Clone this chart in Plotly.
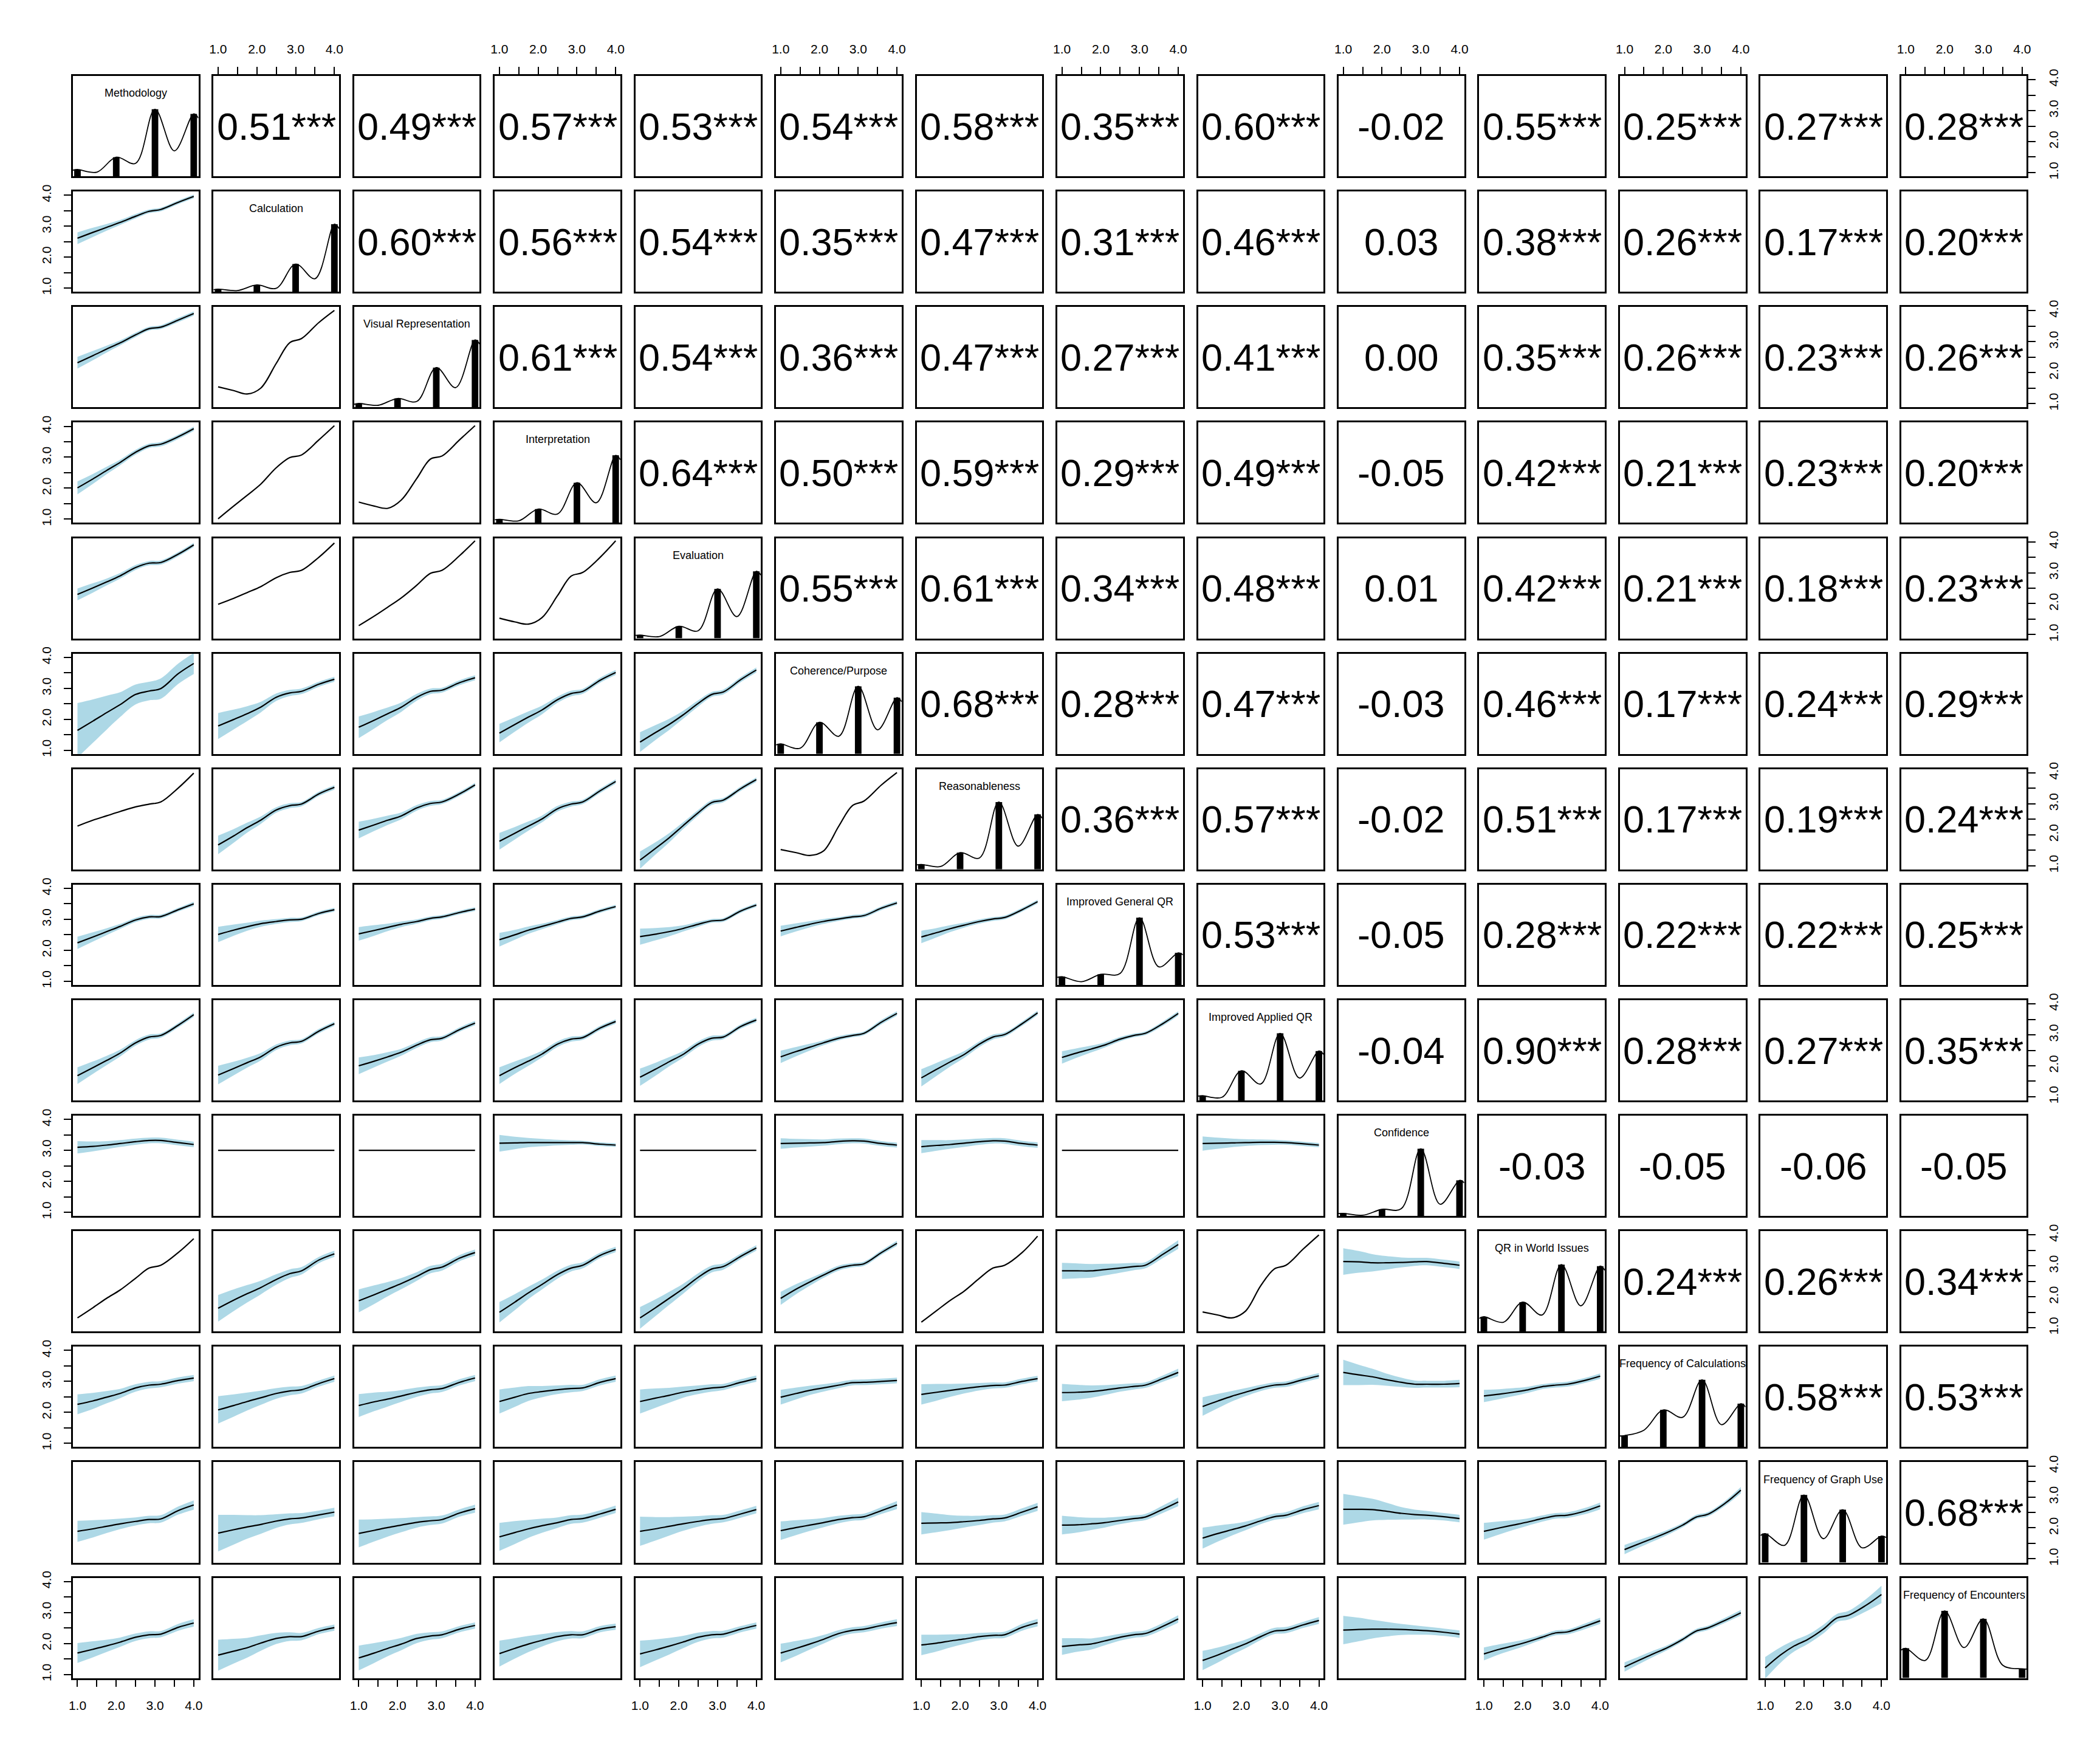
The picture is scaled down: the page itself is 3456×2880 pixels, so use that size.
import plotly.graph_objects as go

# ---------------- data ----------------
VARS = ["Methodology", "Calculation", "Visual Representation", "Interpretation",
        "Evaluation", "Coherence/Purpose", "Reasonableness", "Improved General QR",
        "Improved Applied QR", "Confidence", "QR in World Issues",
        "Frequency of Calculations", "Frequency of Graph Use", "Frequency of Encounters"]

# upper triangle correlation labels, row i, columns i+1..14
CORR_R01 = ["0.51***", "0.49***", "0.57***", "0.53***", "0.54***", "0.58***", "0.35***", "0.60***", "-0.02", "0.55***", "0.25***", "0.27***", "0.28***"]
CORR_R02 = ["0.60***", "0.56***", "0.54***", "0.35***", "0.47***", "0.31***", "0.46***", "0.03", "0.38***", "0.26***", "0.17***", "0.20***"]
CORR_R03 = ["0.61***", "0.54***", "0.36***", "0.47***", "0.27***", "0.41***", "0.00", "0.35***", "0.26***", "0.23***", "0.26***"]
CORR_R04 = ["0.64***", "0.50***", "0.59***", "0.29***", "0.49***", "-0.05", "0.42***", "0.21***", "0.23***", "0.20***"]
CORR_R05 = ["0.55***", "0.61***", "0.34***", "0.48***", "0.01", "0.42***", "0.21***", "0.18***", "0.23***"]
CORR_R06 = ["0.68***", "0.28***", "0.47***", "-0.03", "0.46***", "0.17***", "0.24***", "0.29***"]
CORR_R07 = ["0.36***", "0.57***", "-0.02", "0.51***", "0.17***", "0.19***", "0.24***"]
CORR_R08 = ["0.53***", "-0.05", "0.28***", "0.22***", "0.22***", "0.25***"]
CORR_R09 = ["-0.04", "0.90***", "0.28***", "0.27***", "0.35***"]
CORR_R10 = ["-0.03", "-0.05", "-0.06", "-0.05"]
CORR_R11 = ["0.24***", "0.26***", "0.34***"]
CORR_R12 = ["0.58***", "0.53***"]
CORR_R13 = ["0.68***"]

# smoother: x positions where fit / half-width of band were read
X_GRID = [1.0, 1.4, 1.75, 2.1, 2.5, 2.85, 3.15, 3.6, 4.0]

# lower triangle: for row i, one (fit, halfwidth) per column 1..i-1 ; halfwidth None = no band
FIT_R02 = [([2.61, 2.80, 2.96, 3.12, 3.32, 3.48, 3.54, 3.77, 3.96], [0.19, 0.15, 0.11, 0.08, 0.07, 0.06, 0.06, 0.06, 0.06])]
FIT_R03 = [([2.32, 2.55, 2.76, 2.96, 3.22, 3.42, 3.47, 3.70, 3.91], [0.19, 0.15, 0.11, 0.08, 0.07, 0.06, 0.06, 0.07, 0.07]),
           ([1.54, 1.42, 1.31, 1.50, 2.30, 2.97, 3.10, 3.62, 4.01], None)]
FIT_R04 = [([2.01, 2.30, 2.57, 2.83, 3.16, 3.37, 3.42, 3.66, 3.92], [0.21, 0.16, 0.12, 0.09, 0.08, 0.07, 0.07, 0.07, 0.07]),
           ([1.01, 1.42, 1.77, 2.13, 2.66, 2.99, 3.07, 3.56, 4.02], None),
           ([1.55, 1.42, 1.35, 1.62, 2.32, 2.94, 3.04, 3.56, 4.02], None)]
FIT_R05 = [([2.30, 2.51, 2.70, 2.90, 3.17, 3.31, 3.33, 3.60, 3.90], [0.19, 0.15, 0.11, 0.09, 0.08, 0.07, 0.07, 0.07, 0.07]),
           ([1.98, 2.17, 2.36, 2.55, 2.84, 3.01, 3.08, 3.50, 3.96], None),
           ([1.29, 1.60, 1.89, 2.19, 2.60, 2.98, 3.08, 3.55, 4.03], None),
           ([1.53, 1.41, 1.34, 1.55, 2.26, 2.89, 3.01, 3.50, 4.03], None)]
FIT_R06 = [([1.64, 1.94, 2.21, 2.47, 2.80, 2.91, 2.99, 3.47, 3.80], [0.88, 0.70, 0.55, 0.40, 0.32, 0.30, 0.33, 0.33, 0.34]),
           ([1.78, 1.99, 2.18, 2.39, 2.71, 2.85, 2.90, 3.13, 3.29], [0.42, 0.32, 0.24, 0.17, 0.12, 0.10, 0.09, 0.08, 0.08]),
           ([1.74, 1.97, 2.18, 2.39, 2.71, 2.90, 2.94, 3.18, 3.34], [0.35, 0.27, 0.20, 0.15, 0.11, 0.09, 0.08, 0.08, 0.08]),
           ([1.55, 1.83, 2.07, 2.30, 2.63, 2.83, 2.90, 3.26, 3.51], [0.30, 0.23, 0.18, 0.14, 0.10, 0.09, 0.08, 0.08, 0.08]),
           ([1.26, 1.57, 1.83, 2.13, 2.51, 2.80, 2.88, 3.28, 3.59], [0.32, 0.24, 0.18, 0.13, 0.10, 0.08, 0.08, 0.08, 0.08])]
FIT_R07 = [([2.28, 2.47, 2.61, 2.75, 2.90, 2.99, 3.06, 3.51, 3.99], None),
           ([1.67, 1.96, 2.23, 2.47, 2.80, 2.94, 2.99, 3.32, 3.53], [0.30, 0.22, 0.16, 0.12, 0.09, 0.08, 0.07, 0.07, 0.07]),
           ([2.15, 2.32, 2.47, 2.61, 2.87, 3.01, 3.06, 3.32, 3.61], [0.27, 0.20, 0.15, 0.11, 0.09, 0.08, 0.07, 0.07, 0.07]),
           ([1.79, 2.05, 2.28, 2.51, 2.84, 2.99, 3.06, 3.42, 3.72], [0.27, 0.20, 0.15, 0.11, 0.09, 0.08, 0.07, 0.07, 0.07]),
           ([1.18, 1.56, 1.90, 2.28, 2.71, 3.04, 3.12, 3.49, 3.78], [0.28, 0.20, 0.15, 0.11, 0.09, 0.08, 0.07, 0.07, 0.07]),
           ([1.52, 1.42, 1.33, 1.47, 2.28, 2.94, 3.09, 3.61, 4.01], None)]
FIT_R08 = [([2.24, 2.43, 2.60, 2.77, 2.98, 3.08, 3.09, 3.31, 3.50], [0.20, 0.15, 0.11, 0.08, 0.07, 0.06, 0.06, 0.06, 0.07]),
           ([2.51, 2.65, 2.76, 2.86, 2.93, 2.98, 3.00, 3.19, 3.31], [0.25, 0.18, 0.13, 0.10, 0.08, 0.07, 0.06, 0.06, 0.06]),
           ([2.53, 2.64, 2.74, 2.84, 2.93, 3.03, 3.08, 3.22, 3.33], [0.22, 0.17, 0.12, 0.09, 0.07, 0.06, 0.06, 0.06, 0.06]),
           ([2.34, 2.50, 2.65, 2.77, 2.91, 3.03, 3.08, 3.27, 3.41], [0.22, 0.16, 0.12, 0.09, 0.07, 0.06, 0.06, 0.06, 0.06]),
           ([2.44, 2.52, 2.60, 2.70, 2.84, 2.95, 2.98, 3.27, 3.46], [0.26, 0.20, 0.15, 0.10, 0.08, 0.06, 0.06, 0.06, 0.06]),
           ([2.62, 2.74, 2.84, 2.93, 3.01, 3.08, 3.12, 3.36, 3.53], [0.17, 0.13, 0.10, 0.08, 0.06, 0.06, 0.06, 0.06, 0.06]),
           ([2.43, 2.57, 2.70, 2.81, 2.93, 3.01, 3.06, 3.31, 3.57], [0.20, 0.15, 0.11, 0.08, 0.07, 0.06, 0.06, 0.06, 0.06])]
FIT_R09 = [([1.68, 1.94, 2.17, 2.41, 2.74, 2.93, 2.98, 3.31, 3.65], [0.27, 0.20, 0.15, 0.11, 0.09, 0.08, 0.07, 0.07, 0.07]),
           ([1.70, 1.91, 2.10, 2.29, 2.60, 2.74, 2.79, 3.12, 3.36], [0.30, 0.22, 0.16, 0.12, 0.09, 0.08, 0.07, 0.07, 0.07]),
           ([2.00, 2.15, 2.29, 2.44, 2.67, 2.84, 2.89, 3.17, 3.38], [0.27, 0.20, 0.15, 0.11, 0.09, 0.08, 0.07, 0.07, 0.07]),
           ([1.68, 1.94, 2.15, 2.38, 2.70, 2.86, 2.91, 3.22, 3.43], [0.27, 0.20, 0.15, 0.11, 0.09, 0.08, 0.07, 0.07, 0.07]),
           ([1.63, 1.89, 2.13, 2.36, 2.70, 2.89, 2.93, 3.27, 3.48], [0.28, 0.21, 0.15, 0.11, 0.09, 0.08, 0.07, 0.07, 0.07]),
           ([2.29, 2.46, 2.60, 2.74, 2.89, 2.98, 3.05, 3.41, 3.69], [0.20, 0.15, 0.11, 0.08, 0.07, 0.06, 0.06, 0.07, 0.07]),
           ([1.61, 1.89, 2.13, 2.36, 2.70, 2.93, 3.01, 3.36, 3.71], [0.28, 0.21, 0.15, 0.11, 0.09, 0.08, 0.07, 0.07, 0.07]),
           ([2.27, 2.42, 2.54, 2.67, 2.86, 2.98, 3.05, 3.36, 3.69], [0.20, 0.15, 0.11, 0.08, 0.07, 0.06, 0.06, 0.07, 0.07])]
FIT_R10 = [([3.10, 3.13, 3.17, 3.22, 3.28, 3.32, 3.32, 3.25, 3.19], [0.20, 0.16, 0.13, 0.11, 0.10, 0.09, 0.09, 0.09, 0.09]),
           ([3.00, 3.00, 3.00, 3.00, 3.00, 3.00, 3.00, 3.00, 3.00], None),
           ([3.00, 3.00, 3.00, 3.00, 3.00, 3.00, 3.00, 3.00, 3.00], None),
           ([3.23, 3.24, 3.25, 3.25, 3.25, 3.25, 3.25, 3.20, 3.17], [0.27, 0.20, 0.15, 0.12, 0.09, 0.07, 0.06, 0.06, 0.06]),
           ([3.00, 3.00, 3.00, 3.00, 3.00, 3.00, 3.00, 3.00, 3.00], None),
           ([3.22, 3.23, 3.24, 3.25, 3.29, 3.31, 3.30, 3.22, 3.17], [0.17, 0.14, 0.12, 0.10, 0.09, 0.08, 0.08, 0.08, 0.08]),
           ([3.12, 3.16, 3.19, 3.23, 3.28, 3.31, 3.30, 3.22, 3.17], [0.21, 0.17, 0.14, 0.12, 0.10, 0.09, 0.09, 0.09, 0.09]),
           ([3.00, 3.00, 3.00, 3.00, 3.00, 3.00, 3.00, 3.00, 3.00], None),
           ([3.22, 3.23, 3.24, 3.25, 3.26, 3.26, 3.25, 3.21, 3.17], [0.23, 0.18, 0.14, 0.11, 0.09, 0.08, 0.07, 0.07, 0.07])]
FIT_R11 = [([1.32, 1.65, 1.95, 2.22, 2.60, 2.93, 3.02, 3.43, 3.88], None),
           ([1.63, 1.89, 2.10, 2.30, 2.56, 2.75, 2.84, 3.19, 3.39], [0.43, 0.35, 0.28, 0.22, 0.17, 0.14, 0.12, 0.10, 0.10]),
           ([1.87, 2.07, 2.25, 2.43, 2.66, 2.88, 2.96, 3.25, 3.43], [0.37, 0.30, 0.23, 0.18, 0.14, 0.12, 0.11, 0.10, 0.10]),
           ([1.50, 1.83, 2.13, 2.40, 2.72, 2.93, 3.02, 3.34, 3.53], [0.33, 0.26, 0.20, 0.16, 0.13, 0.11, 0.10, 0.09, 0.09]),
           ([1.32, 1.65, 1.95, 2.25, 2.63, 2.90, 2.98, 3.31, 3.58], [0.35, 0.27, 0.21, 0.16, 0.13, 0.11, 0.10, 0.09, 0.09]),
           ([1.95, 2.25, 2.48, 2.70, 2.93, 3.02, 3.07, 3.43, 3.73], [0.21, 0.16, 0.12, 0.09, 0.08, 0.07, 0.07, 0.07, 0.08]),
           ([1.18, 1.56, 1.89, 2.18, 2.60, 2.93, 3.02, 3.43, 3.96], None),
           ([2.84, 2.84, 2.84, 2.88, 2.93, 2.98, 3.02, 3.37, 3.69], [0.26, 0.24, 0.22, 0.19, 0.15, 0.12, 0.10, 0.12, 0.14]),
           ([1.51, 1.41, 1.32, 1.53, 2.36, 2.90, 3.02, 3.55, 4.00], None),
           ([3.14, 3.13, 3.10, 3.10, 3.11, 3.13, 3.14, 3.08, 3.02], [0.43, 0.35, 0.28, 0.22, 0.16, 0.13, 0.12, 0.12, 0.12])]
FIT_R12 = [([2.26, 2.37, 2.49, 2.61, 2.79, 2.88, 2.91, 3.03, 3.11], [0.32, 0.26, 0.20, 0.15, 0.12, 0.11, 0.10, 0.10, 0.10]),
           ([2.08, 2.22, 2.35, 2.47, 2.61, 2.69, 2.73, 2.93, 3.09], [0.44, 0.36, 0.29, 0.23, 0.17, 0.14, 0.12, 0.10, 0.10]),
           ([2.22, 2.34, 2.43, 2.53, 2.65, 2.73, 2.77, 2.97, 3.11], [0.37, 0.30, 0.24, 0.19, 0.15, 0.12, 0.11, 0.10, 0.10]),
           ([2.35, 2.49, 2.61, 2.67, 2.73, 2.77, 2.79, 2.97, 3.09], [0.39, 0.31, 0.24, 0.18, 0.14, 0.12, 0.10, 0.10, 0.10]),
           ([2.35, 2.46, 2.55, 2.65, 2.73, 2.79, 2.82, 2.97, 3.09], [0.39, 0.31, 0.24, 0.18, 0.14, 0.12, 0.10, 0.10, 0.10]),
           ([2.49, 2.61, 2.71, 2.79, 2.88, 2.96, 2.97, 3.00, 3.03], [0.24, 0.19, 0.15, 0.12, 0.10, 0.09, 0.09, 0.09, 0.09]),
           ([2.58, 2.65, 2.71, 2.77, 2.83, 2.87, 2.88, 3.00, 3.09], [0.33, 0.27, 0.21, 0.16, 0.12, 0.10, 0.09, 0.09, 0.09]),
           ([2.64, 2.65, 2.67, 2.72, 2.79, 2.84, 2.88, 3.09, 3.29], [0.28, 0.24, 0.20, 0.16, 0.12, 0.10, 0.09, 0.10, 0.12]),
           ([2.19, 2.37, 2.52, 2.65, 2.79, 2.88, 2.91, 3.06, 3.18], [0.30, 0.23, 0.17, 0.13, 0.10, 0.09, 0.09, 0.09, 0.09]),
           ([3.29, 3.21, 3.15, 3.06, 2.97, 2.91, 2.91, 2.91, 2.93], [0.41, 0.33, 0.26, 0.20, 0.15, 0.12, 0.11, 0.11, 0.12]),
           ([2.53, 2.59, 2.65, 2.72, 2.83, 2.88, 2.91, 3.03, 3.17], [0.20, 0.16, 0.13, 0.10, 0.08, 0.08, 0.08, 0.08, 0.09])]
FIT_R13 = [([1.89, 1.97, 2.05, 2.13, 2.21, 2.27, 2.29, 2.56, 2.74], [0.34, 0.28, 0.22, 0.17, 0.13, 0.12, 0.12, 0.13, 0.15]),
           ([1.83, 1.94, 2.03, 2.11, 2.22, 2.29, 2.32, 2.42, 2.51], [0.59, 0.48, 0.38, 0.30, 0.22, 0.18, 0.16, 0.14, 0.14]),
           ([1.82, 1.92, 2.01, 2.09, 2.18, 2.23, 2.27, 2.48, 2.62], [0.45, 0.36, 0.29, 0.23, 0.17, 0.14, 0.13, 0.12, 0.13]),
           ([1.71, 1.85, 1.97, 2.07, 2.17, 2.27, 2.30, 2.45, 2.60], [0.45, 0.37, 0.29, 0.23, 0.17, 0.14, 0.13, 0.12, 0.12]),
           ([1.89, 1.97, 2.05, 2.13, 2.21, 2.27, 2.30, 2.45, 2.59], [0.47, 0.38, 0.30, 0.23, 0.17, 0.14, 0.12, 0.12, 0.12]),
           ([1.91, 2.01, 2.09, 2.17, 2.27, 2.33, 2.36, 2.56, 2.74], [0.30, 0.24, 0.19, 0.15, 0.12, 0.10, 0.10, 0.11, 0.13]),
           ([2.15, 2.16, 2.17, 2.20, 2.24, 2.29, 2.32, 2.51, 2.68], [0.36, 0.30, 0.24, 0.19, 0.15, 0.12, 0.11, 0.12, 0.13]),
           ([2.09, 2.10, 2.13, 2.17, 2.24, 2.30, 2.35, 2.60, 2.84], [0.30, 0.25, 0.20, 0.16, 0.12, 0.10, 0.10, 0.12, 0.14]),
           ([1.67, 1.82, 1.94, 2.06, 2.23, 2.36, 2.41, 2.59, 2.72], [0.34, 0.26, 0.19, 0.14, 0.11, 0.10, 0.10, 0.11, 0.12]),
           ([2.60, 2.60, 2.59, 2.54, 2.47, 2.43, 2.41, 2.36, 2.30], [0.50, 0.42, 0.35, 0.28, 0.20, 0.16, 0.14, 0.12, 0.12]),
           ([1.89, 2.00, 2.09, 2.18, 2.30, 2.39, 2.41, 2.54, 2.71], [0.27, 0.21, 0.16, 0.12, 0.10, 0.09, 0.09, 0.10, 0.11]),
           ([1.30, 1.50, 1.67, 1.85, 2.09, 2.35, 2.44, 2.80, 3.22], [0.15, 0.12, 0.10, 0.08, 0.07, 0.07, 0.07, 0.08, 0.10])]
FIT_R14 = [([1.69, 1.81, 1.92, 2.04, 2.20, 2.28, 2.30, 2.52, 2.66], [0.32, 0.26, 0.20, 0.15, 0.12, 0.11, 0.10, 0.11, 0.12]),
           ([1.62, 1.75, 1.86, 2.01, 2.16, 2.22, 2.22, 2.40, 2.51], [0.50, 0.40, 0.32, 0.25, 0.18, 0.14, 0.12, 0.10, 0.10]),
           ([1.53, 1.69, 1.84, 1.98, 2.16, 2.24, 2.28, 2.46, 2.58], [0.40, 0.32, 0.25, 0.20, 0.15, 0.12, 0.11, 0.10, 0.10]),
           ([1.67, 1.84, 1.98, 2.10, 2.22, 2.28, 2.28, 2.46, 2.54], [0.42, 0.33, 0.26, 0.20, 0.15, 0.12, 0.11, 0.10, 0.10]),
           ([1.66, 1.79, 1.91, 2.04, 2.20, 2.28, 2.30, 2.46, 2.58], [0.43, 0.34, 0.27, 0.20, 0.15, 0.12, 0.11, 0.10, 0.10]),
           ([1.69, 1.84, 1.98, 2.13, 2.32, 2.42, 2.46, 2.58, 2.67], [0.30, 0.24, 0.18, 0.14, 0.11, 0.10, 0.10, 0.10, 0.11]),
           ([1.95, 2.01, 2.08, 2.14, 2.22, 2.26, 2.28, 2.52, 2.67], [0.33, 0.27, 0.21, 0.16, 0.12, 0.10, 0.10, 0.11, 0.12]),
           ([1.90, 1.95, 1.98, 2.08, 2.20, 2.28, 2.32, 2.55, 2.79], [0.27, 0.22, 0.18, 0.14, 0.11, 0.10, 0.10, 0.11, 0.12]),
           ([1.45, 1.63, 1.81, 1.98, 2.22, 2.40, 2.43, 2.60, 2.74], [0.31, 0.24, 0.18, 0.14, 0.11, 0.10, 0.10, 0.10, 0.11]),
           ([2.43, 2.45, 2.46, 2.46, 2.45, 2.43, 2.41, 2.36, 2.30], [0.46, 0.38, 0.30, 0.24, 0.18, 0.15, 0.13, 0.12, 0.12]),
           ([1.66, 1.81, 1.92, 2.04, 2.20, 2.34, 2.37, 2.55, 2.73], [0.21, 0.16, 0.13, 0.10, 0.08, 0.08, 0.08, 0.09, 0.10]),
           ([1.24, 1.47, 1.67, 1.86, 2.13, 2.40, 2.50, 2.75, 2.99], [0.15, 0.12, 0.10, 0.08, 0.07, 0.07, 0.07, 0.08, 0.09]),
           ([1.21, 1.63, 1.92, 2.13, 2.46, 2.82, 2.91, 3.23, 3.58], [0.35, 0.25, 0.18, 0.15, 0.14, 0.13, 0.14, 0.20, 0.28])]

# diagonal: bar heights at values 1..4 (fraction of panel height) and density curve
BAR_X = [1, 2, 3, 4]
DENS_X = [0.88, 1.0, 1.5, 2.0, 2.5, 3.0, 3.5, 4.0, 4.12]
DIAG_BARS = [
    [0.067, 0.19, 0.668, 0.622], [0.026, 0.068, 0.276, 0.674], [0.038, 0.088, 0.396, 0.672],
    [0.035, 0.137, 0.40, 0.673], [0.032, 0.12, 0.493, 0.669], [0.10, 0.315, 0.674, 0.56],
    [0.05, 0.167, 0.672, 0.548], [0.082, 0.106, 0.67, 0.32], [0.047, 0.296, 0.669, 0.493],
    [0.026, 0.066, 0.67, 0.355], [0.147, 0.293, 0.667, 0.652], [0.114, 0.37, 0.67, 0.432],
    [0.289, 0.674, 0.527, 0.264], [0.297, 0.67, 0.59, 0.092]]
DIAG_DENS = [
    [0.06, 0.067, 0.041, 0.19, 0.129, 0.668, 0.253, 0.622, 0.58],
    [0.02, 0.026, 0.012, 0.068, 0.035, 0.276, 0.13, 0.674, 0.63],
    [0.03, 0.038, 0.02, 0.088, 0.059, 0.396, 0.196, 0.672, 0.63],
    [0.03, 0.035, 0.02, 0.137, 0.088, 0.40, 0.20, 0.673, 0.63],
    [0.03, 0.032, 0.018, 0.12, 0.076, 0.493, 0.217, 0.669, 0.63],
    [0.09, 0.10, 0.056, 0.315, 0.176, 0.674, 0.24, 0.56, 0.52],
    [0.045, 0.05, 0.029, 0.167, 0.114, 0.672, 0.232, 0.548, 0.51],
    [0.075, 0.082, 0.032, 0.106, 0.115, 0.67, 0.18, 0.32, 0.30],
    [0.043, 0.047, 0.032, 0.296, 0.164, 0.669, 0.223, 0.493, 0.46],
    [0.024, 0.026, 0.007, 0.066, 0.073, 0.67, 0.117, 0.355, 0.33],
    [0.13, 0.147, 0.092, 0.293, 0.165, 0.667, 0.256, 0.652, 0.61],
    [0.11, 0.114, 0.168, 0.37, 0.297, 0.67, 0.223, 0.432, 0.40],
    [0.27, 0.289, 0.172, 0.674, 0.238, 0.527, 0.147, 0.264, 0.25],
    [0.28, 0.297, 0.176, 0.67, 0.304, 0.59, 0.128, 0.092, 0.09]]

TICK_VALS = [1.0, 1.5, 2.0, 2.5, 3.0, 3.5, 4.0]
TICK_TEXT = ["1.0", "", "2.0", "", "3.0", "", "4.0"]

CORR_ROWS = [CORR_R01, CORR_R02, CORR_R03, CORR_R04, CORR_R05, CORR_R06, CORR_R07,
             CORR_R08, CORR_R09, CORR_R10, CORR_R11, CORR_R12, CORR_R13]
FIT_ROWS = [None, FIT_R02, FIT_R03, FIT_R04, FIT_R05, FIT_R06, FIT_R07, FIT_R08,
            FIT_R09, FIT_R10, FIT_R11, FIT_R12, FIT_R13, FIT_R14]

# ---------------- layout geometry ----------------
W, H = 3456, 2880
N = 14
COL_LEFT0, COL_PITCH, PANEL_W = 113.3, 232.4, 207.5
ROW_TOP0, ROW_PITCH, PANEL_H = 113.7, 191.25, 166.0
FONT = "Liberation Sans, Arial, Helvetica, sans-serif"
BAND = "#ADD8E6"

fig = go.Figure()
layout = dict(width=W, height=H, margin=dict(l=0, r=0, t=0, b=0),
              paper_bgcolor="white", plot_bgcolor="white", showlegend=False,
              font=dict(family=FONT, color="black"))
annotations = []


def ax_id(k):
    return "" if k == 1 else str(k)


for r in range(N):
    for c in range(N):
        k = r * N + c + 1
        sid = ax_id(k)
        x0 = (COL_LEFT0 + COL_PITCH * c) / W
        x1 = (COL_LEFT0 + COL_PITCH * c + PANEL_W) / W
        top = ROW_TOP0 + ROW_PITCH * r
        y1 = 1 - top / H
        y0 = 1 - (top + PANEL_H) / H
        base = dict(showgrid=False, zeroline=False, showline=True, mirror=True,
                    linecolor="black", linewidth=2.5, fixedrange=True)
        xa = dict(base, domain=[x0, x1], range=[0.88, 4.12], anchor="y" + sid,
                  showticklabels=False, ticks="")
        ya = dict(base, domain=[y0, y1], anchor="x" + sid,
                  range=[0, 1] if r == c else [0.88, 4.12],
                  showticklabels=False, ticks="")
        tick_common = dict(tickmode="array", tickvals=TICK_VALS, ticktext=TICK_TEXT,
                           ticks="outside", ticklen=12, tickwidth=2, tickcolor="black",
                           showticklabels=True,
                           tickfont=dict(family=FONT, size=21, color="black"))
        if r == 0 and c % 2 == 1:
            xa.update(tick_common, side="top", ticklabelstandoff=14)
        if r == N - 1 and c % 2 == 0:
            xa.update(tick_common, side="bottom", ticklabelstandoff=12)
        if c == 0 and r % 2 == 1:
            ya.update(tick_common, side="left", tickangle=-90, ticklabelstandoff=13)
        if c == N - 1 and r % 2 == 0:
            ya.update(tick_common, side="right", tickangle=-90, ticklabelstandoff=12)
        layout["xaxis" + sid] = xa
        layout["yaxis" + sid] = ya

        xr, yr = "x" + sid, "y" + sid
        if r == c:
            fig.add_trace(go.Bar(x=BAR_X, y=DIAG_BARS[r], width=0.17,
                                 marker=dict(color="black", line=dict(width=0)),
                                 xaxis=xr, yaxis=yr, hoverinfo="skip"))
            fig.add_trace(go.Scatter(x=DENS_X, y=DIAG_DENS[r], mode="lines",
                                     line=dict(color="black", width=1.8, shape="spline"),
                                     xaxis=xr, yaxis=yr, hoverinfo="skip"))
            annotations.append(dict(text=VARS[r], x=0.5, y=0.83, xref=xr + " domain",
                                    yref=yr + " domain", showarrow=False,
                                    xanchor="center", yanchor="middle",
                                    font=dict(family=FONT, size=18, color="black")))
        elif c > r:
            # empty trace so the subplot (frame + axes) is drawn
            fig.add_trace(go.Scatter(x=[], y=[], mode="lines", xaxis=xr, yaxis=yr,
                                     hoverinfo="skip"))
            annotations.append(dict(text=CORR_ROWS[r][c - r - 1], x=0.5, y=0.5,
                                    xref=xr + " domain", yref=yr + " domain",
                                    showarrow=False, xanchor="center", yanchor="middle",
                                    font=dict(family=FONT, size=63, color="black")))
        else:
            fit, hw = FIT_ROWS[r][c]
            if hw is not None:
                lo = [f - h for f, h in zip(fit, hw)]
                hi = [f + h for f, h in zip(fit, hw)]
                fig.add_trace(go.Scatter(x=X_GRID, y=lo, mode="lines",
                                         line=dict(width=0, shape="spline", color=BAND),
                                         xaxis=xr, yaxis=yr, hoverinfo="skip"))
                fig.add_trace(go.Scatter(x=X_GRID, y=hi, mode="lines", fill="tonexty",
                                         fillcolor=BAND,
                                         line=dict(width=0, shape="spline", color=BAND),
                                         xaxis=xr, yaxis=yr, hoverinfo="skip"))
            fig.add_trace(go.Scatter(x=X_GRID, y=fit, mode="lines",
                                     line=dict(color="black", width=2.2, shape="spline"),
                                     xaxis=xr, yaxis=yr, hoverinfo="skip"))

layout["annotations"] = annotations
fig.update_layout(**layout)
fig.write_html("out.html")
